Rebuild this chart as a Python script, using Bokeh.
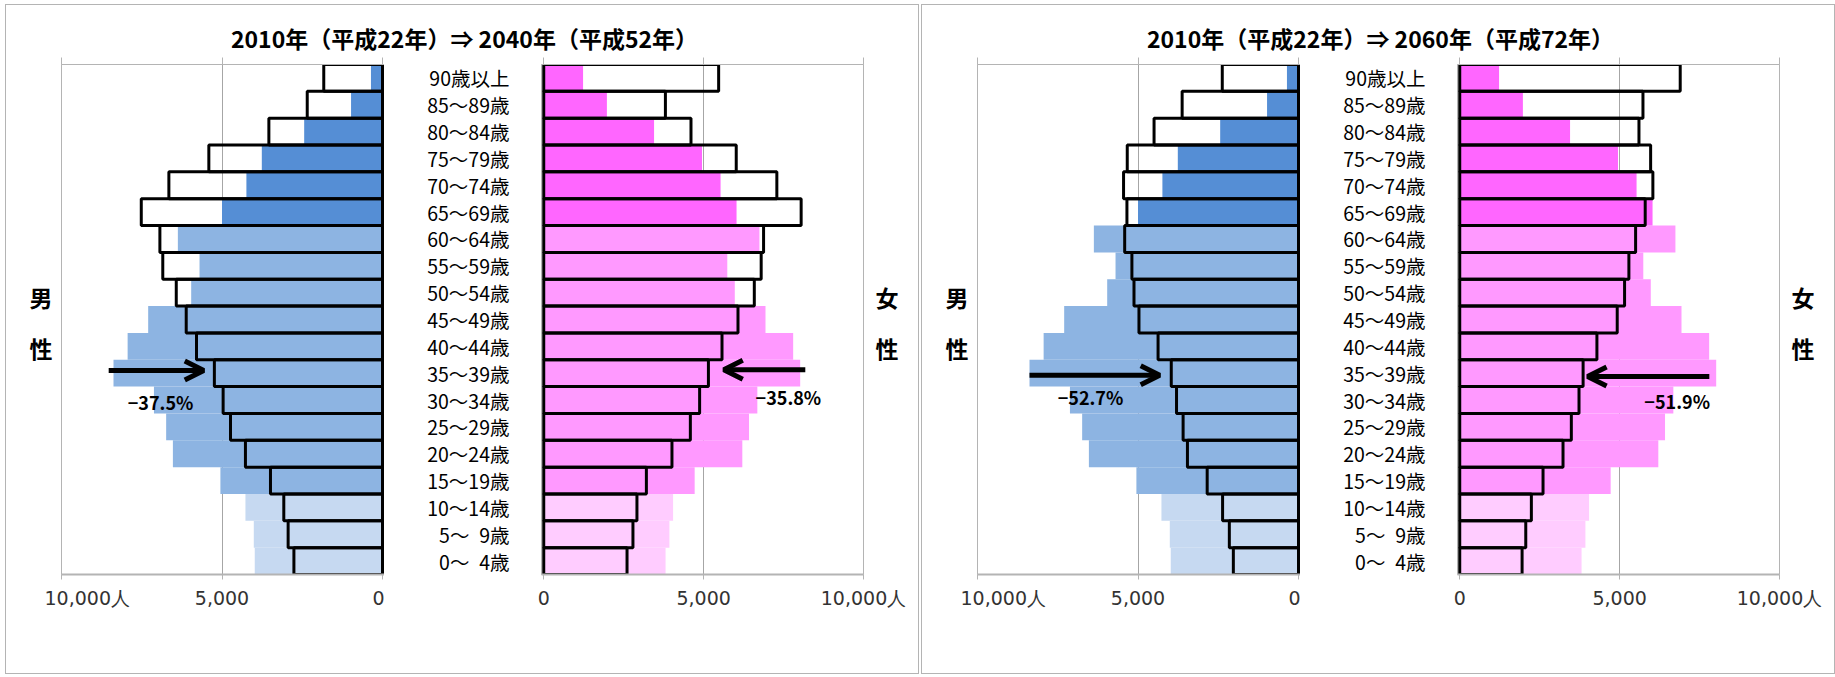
from bokeh.plotting import figure
from bokeh.models import (Range1d, FixedTicker, NumeralTickFormatter, LinearAxis,
                          Label, Arrow, OpenHead, ColumnDataSource, Spacer)
from bokeh.layouts import row, column
from bokeh.embed import file_html
from bokeh.resources import INLINE

# ---- data (persons), youngest group first ----
AGE_GROUPS = ["0～\u20024歳", "5～\u20029歳", "10～14歳", "15～19歳", "20～24歳", "25～29歳",
              "30～34歳", "35～39歳", "40～44歳", "45～49歳", "50～54歳", "55～59歳",
              "60～64歳", "65～69歳", "70～74歳", "75～79歳", "80～84歳", "85～89歳", "90歳以上"]
AGE_LOWER = [0, 5, 10, 15, 20, 25, 30, 35, 40, 45, 50, 55, 60, 65, 70, 75, 80, 85, 90]

MALE_2010 = [3980, 4010, 4270, 5050, 6530, 6740, 7120, 8380, 7940, 7300,
             5960, 5700, 6375, 5000, 4240, 3760, 2440, 980, 360]
FEMALE_2010 = [3810, 3930, 4045, 4720, 6210, 6420, 6680, 8020, 7800, 6935,
               5975, 5740, 6745, 6030, 5530, 4950, 3450, 1975, 1230]

MALE_2040 = [2760, 2940, 3075, 3490, 4270, 4735, 4965, 5238, 5795, 6115,
             6425, 6845, 6935, 7515, 6655, 5410, 3540, 2345, 1830]
FEMALE_2040 = [2605, 2790, 2915, 3210, 4010, 4585, 4875, 5150, 5575, 6075,
               6585, 6800, 6875, 8050, 7290, 6020, 4605, 3805, 5470]

MALE_2060 = [2030, 2155, 2365, 2845, 3460, 3595, 3800, 3964, 4375, 4970,
             5125, 5190, 5415, 5345, 5450, 5335, 4500, 3625, 2375]
FEMALE_2060 = [1950, 2065, 2240, 2605, 3230, 3490, 3730, 3858, 4290, 4925,
               5155, 5290, 5500, 5800, 6040, 5970, 5605, 5730, 6895]

X_TICKS = [0, 5000, 10000]
FOCUS_GROUP = "35～39歳"

# ---- styling ----
MALE_COLORS = {"young": "#C6D9F1", "working": "#8DB4E2", "elderly": "#558ED5"}
FEMALE_COLORS = {"young": "#FFCCFF", "working": "#FF99FF", "elderly": "#FF66FF"}
JP_FONT = "Noto Sans CJK JP"
NUM_FONT = "DejaVu Sans"
GRID_GRAY = "#A6A6A6"
AXIS_GRAY = "#B4B4B4"

CONTENT_W = 912
TITLE_H = 48
FIG_H = 620
TOP_B, BOTTOM_B = 11, 99
FRAME_H = FIG_H - TOP_B - BOTTOM_B
MALE_W, MALE_LB = 378, 55
FEMALE_W, FEMALE_LB, FEMALE_RB = 534, 157, 55
N_ROWS = len(AGE_GROUPS)
ROW_CENTERS = [k + 0.5 for k in range(N_ROWS)]
# "男/女" and "性" sit this many px above the frame bottom
SEX_LABEL_PX = (278, 227)
SEX_LABEL_Y = [px / FRAME_H * N_ROWS for px in SEX_LABEL_PX]


def band(lower):
    if lower < 15:
        return "young"
    if lower < 65:
        return "working"
    return "elderly"


def style_x(p, male):
    p.xgrid.ticker = FixedTicker(ticks=X_TICKS)
    p.xgrid.grid_line_color = GRID_GRAY
    p.ygrid.grid_line_color = None
    p.outline_line_color = AXIS_GRAY
    p.outline_line_width = 1
    ax = p.xaxis[0]
    ax.ticker = FixedTicker(ticks=X_TICKS)
    ax.formatter = NumeralTickFormatter(format="0,0")
    # outer tick carries the unit; on the men's side it sits right of its tick
    ax.major_label_overrides = {10000: ("\u2003\u200310,000人" if male else "10,000人")}
    ax.axis_line_color = AXIS_GRAY
    ax.axis_line_width = 2
    ax.major_tick_line_color = AXIS_GRAY
    ax.major_tick_out = 5
    ax.major_tick_in = 0
    ax.minor_tick_line_color = None
    ax.major_label_standoff = 7
    ax.major_label_text_font = NUM_FONT
    ax.major_label_text_font_size = "19px"
    ax.major_label_text_color = "#333333"
    top = LinearAxis(ticker=FixedTicker(ticks=X_TICKS), axis_line_color=AXIS_GRAY,
                     major_tick_line_color=AXIS_GRAY, major_tick_out=7, major_tick_in=0,
                     minor_tick_line_color=None, major_label_text_color=None,
                     major_label_standoff=0)
    p.add_layout(top, "above")


def sex_axis(chars, standoff):
    return LinearAxis(ticker=FixedTicker(ticks=SEX_LABEL_Y),
                      major_label_overrides={t: c for t, c in zip(SEX_LABEL_Y, chars)},
                      axis_line_color=None, major_tick_line_color=None, minor_tick_line_color=None,
                      major_tick_out=0, major_tick_in=0, major_label_standoff=standoff,
                      major_label_text_font=JP_FONT, major_label_text_font_size="23px",
                      major_label_text_font_style="bold", major_label_text_color="black")


def side(values_base, values_future, colors, male, cfg):
    src = ColumnDataSource(data=dict(
        y=ROW_CENTERS, base=values_base, future=values_future,
        color=[colors[band(a)] for a in AGE_LOWER]))
    common = dict(height=FIG_H, y_range=Range1d(0, N_ROWS),
                  min_border_top=TOP_B, min_border_bottom=BOTTOM_B,
                  toolbar_location=None, output_backend="svg", y_axis_location=None)
    if male:
        p = figure(width=MALE_W, x_range=Range1d(10000, -62), min_border_left=MALE_LB,
                   min_border_right=0, **common)
        p.add_layout(sex_axis(("男", "性"), 9), "left")
    else:
        p = figure(width=FEMALE_W, x_range=Range1d(-70, 10000), min_border_left=FEMALE_LB,
                   min_border_right=FEMALE_RB, **common)
        age_axis = LinearAxis(ticker=FixedTicker(ticks=ROW_CENTERS),
                              major_label_overrides=dict(zip(ROW_CENTERS, AGE_GROUPS)),
                              axis_line_color=None, major_tick_line_color=None,
                              minor_tick_line_color=None, major_tick_out=0, major_tick_in=0,
                              major_label_standoff=32, major_label_text_font=JP_FONT,
                              major_label_text_font_size="19.5px", major_label_text_color="black")
        p.add_layout(age_axis, "left")
        p.add_layout(sex_axis(("女", "性"), 12), "right")
    p.background_fill_color = "white"
    p.border_fill_color = "white"
    style_x(p, male)

    # 2010 bars filled, projection bars as black outlines on top
    p.hbar(y="y", left=0, right="base", height=1.0, fill_color="color", line_color=None, source=src)
    p.hbar(y="y", left=0, right="future", height=1.0, fill_color=None, line_color="black",
           line_width=3, source=src)

    # change of the focus group
    i = AGE_GROUPS.index(FOCUS_GROUP)
    b, f = values_base[i], values_future[i]
    pct = (1 - f / b) * 100
    ay = ROW_CENTERS[i] + cfg["dy"]
    p.add_layout(Arrow(x_start=b + cfg["tail"], y_start=ay, x_end=f + cfg["tip"], y_end=ay,
                       line_color="black", line_width=5,
                       end=OpenHead(size=19, line_width=5, line_color="black")))
    p.add_layout(Label(x=cfg["tx"], y=cfg["ty"], text=f"\u2212{pct:.1f}%", text_font=JP_FONT,
                       text_font_size="18px", text_font_style="bold", text_color="black",
                       text_align="center", text_baseline="middle"))
    return p


def chart(title_text, fut_m, fut_f, cfg_m, cfg_f):
    t = figure(width=CONTENT_W, height=TITLE_H, x_range=Range1d(0, 1), y_range=Range1d(0, 1),
               min_border=0, toolbar_location=None, output_backend="svg",
               x_axis_location=None, y_axis_location=None)
    t.outline_line_color = None
    t.grid.visible = False
    t.add_layout(Label(x=CONTENT_W / 2 + 2, y=16, x_units="screen", y_units="screen",
                       text=title_text, text_font=JP_FONT, text_font_size="23px",
                       text_font_style="bold", text_color="black",
                       text_align="center", text_baseline="middle"))
    pm = side(MALE_2010, fut_m, MALE_COLORS, True, cfg_m)
    pf = side(FEMALE_2010, fut_f, FEMALE_COLORS, False, cfg_f)
    return column(t, row(pm, pf, spacing=0), spacing=0,
                  styles={"border": "1px solid #B4B4B4", "background-color": "white"})


c1 = chart("2010年（平成22年）⇒ 2040年（平成52年）", MALE_2040, FEMALE_2040,
           dict(dy=0.1, tail=150, tip=330, tx=6915, ty=6.42),
           dict(dy=0.13, tail=160, tip=480, tx=7650, ty=6.62))
c2 = chart("2010年（平成22年）⇒ 2060年（平成72年）", MALE_2060, FEMALE_2060,
           dict(dy=-0.08, tail=0, tip=360, tx=6480, ty=6.6),
           dict(dy=-0.12, tail=-215, tip=140, tx=6800, ty=6.48))

page = column(Spacer(height=4), row(Spacer(width=5), c1, Spacer(width=2), c2, spacing=0), spacing=0)

open("out.html", "w").write(file_html(page, INLINE, title="人口ピラミッド"))
